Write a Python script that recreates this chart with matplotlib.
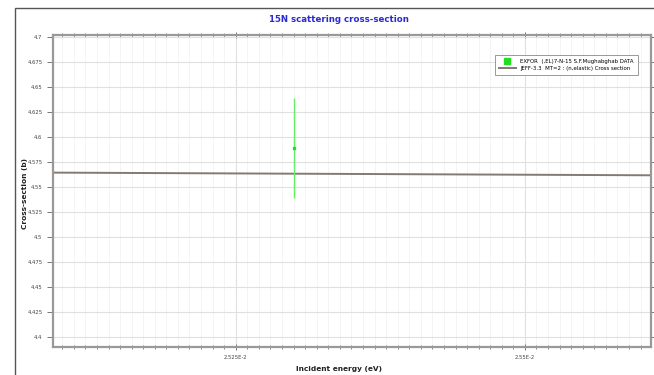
import matplotlib.pyplot as plt
from matplotlib.ticker import MultipleLocator, FuncFormatter
from matplotlib.patches import Rectangle

# EXFOR point (energy eV, cross-section b, error b)
exfor_e = [0.0253]
exfor_xs = [4.589]
exfor_err = [0.05]

# JEFF-3.3 evaluated line over the window
jeff_e = [0.02509, 0.02561]
jeff_xs = [4.5644, 4.5617]

fig = plt.figure(figsize=(6.54, 3.75), dpi=100)

# outer panel frame
fig.patches.append(Rectangle((15 / 654, -0.1), 1.2, 1.1 - 8 / 375, transform=fig.transFigure,
                             fill=False, edgecolor='#555555', linewidth=1.0))

ax = fig.add_axes([53 / 654, 1 - 347 / 375, (651 - 53) / 654, (347 - 35) / 375])

ax.plot(jeff_e, jeff_xs, color='#857970', linewidth=1.4,
        label='JEFF-3.3  MT=2 : (n,elastic) Cross section')
ax.errorbar(exfor_e, exfor_xs, yerr=exfor_err, fmt='s', color='#22dd22', ecolor='#66ee66',
            markersize=1.8, elinewidth=1.0, capsize=0,
            label='EXFOR  (,EL)7-N-15 S.F.Mughabghab DATA')

ax.set_xlim(0.025092, 0.025609)
ax.set_ylim(4.390, 4.702)

ax.xaxis.set_major_locator(MultipleLocator(0.00025))
ax.xaxis.set_minor_locator(MultipleLocator(0.00001))
ax.yaxis.set_major_locator(MultipleLocator(0.025))


def efmt(v, pos):
    s = '%.4g' % (v * 100)
    return s + 'E-2'


def yfmt(v, pos):
    return ('%.3f' % v).rstrip('0').rstrip('.')


ax.xaxis.set_major_formatter(FuncFormatter(efmt))
ax.yaxis.set_major_formatter(FuncFormatter(yfmt))

ax.grid(which='major', color='#e0e0e0', linewidth=0.8)
ax.grid(which='minor', axis='x', color='#f2f2f2', linewidth=0.6)
ax.set_axisbelow(True)

ax.tick_params(axis='both', which='major', labelsize=3.8, colors='#777777', labelcolor='#444444',
               length=4, width=0.7, top=True, right=True, direction='inout')
ax.tick_params(axis='x', which='minor', length=2.5, width=0.6, colors='#777777',
               top=True, direction='inout')
ax.tick_params(axis='y', which='major', direction='out', right=True)

for sp in ax.spines.values():
    sp.set_color('#999999')
    sp.set_linewidth(1.6)

fig.text(339 / 654, 1 - 20 / 375, '15N scattering cross-section', ha='center', va='center',
         color='#2a2ad0', fontsize=6.2, fontweight='bold')
fig.text(339 / 654, 1 - 369 / 375, 'Incident energy (eV)', ha='center', va='center',
         color='#222222', fontsize=5.3, fontweight='bold')
fig.text(25 / 654, 1 - 193 / 375, 'Cross-section (b)', ha='center', va='center', rotation=90,
         color='#222222', fontsize=5.3, fontweight='bold')

h, l = ax.get_legend_handles_labels()
leg = ax.legend(h[::-1], l[::-1], loc='upper right', bbox_to_anchor=(0.982, 0.945), fontsize=3.9,
                frameon=True, fancybox=False, edgecolor='#999999', framealpha=1,
                handlelength=3.2, borderpad=0.7, labelspacing=0.5, markerscale=2.6)
leg.get_frame().set_linewidth(0.7)

fig.savefig('out.png', dpi=100)
